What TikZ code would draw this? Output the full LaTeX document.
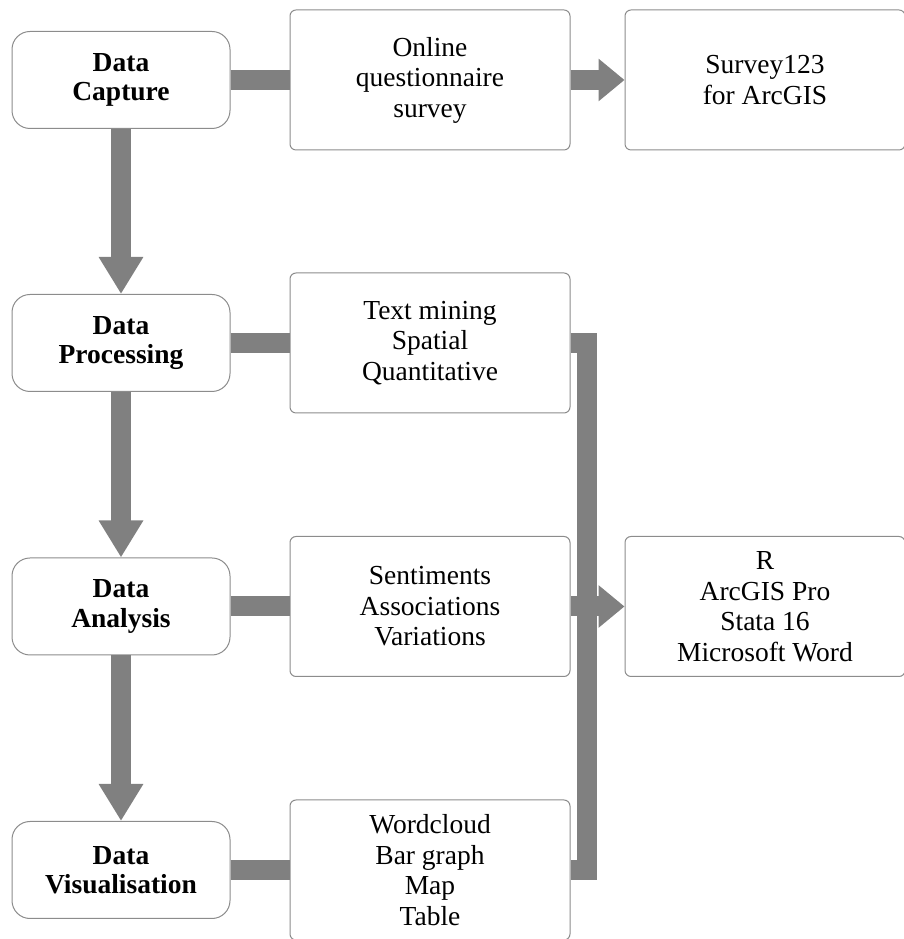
\documentclass[tikz,border=0pt]{standalone}
\usepackage{fontspec}
\setmainfont{Liberation Serif}
\usepackage{xcolor}
\usepackage{tikz}
\usetikzlibrary{arrows.meta}
\definecolor{gris}{RGB}{128,128,128}
\definecolor{bord}{RGB}{140,140,140}

\begin{document}
\begin{tikzpicture}[x=1pt,y=1pt,
	etape/.style={draw=bord,line width=1pt,fill=white,rounded corners=18pt,
		minimum width=218pt,minimum height=97pt,align=center,
		font=\fontsize{27.5}{29.5}\selectfont\bfseries},
	detail/.style={draw=bord,line width=1pt,fill=white,rounded corners=6pt,
		minimum width=280pt,minimum height=140pt,align=center,
		font=\fontsize{27.5}{30.5}\selectfont},
	lien/.style={draw=gris,line width=20pt},
	versbas/.style={lien,-{Triangle[length=37pt,width=42pt]}},
	versdroite/.style={lien,-{Triangle[length=26pt,width=41pt]}}]
	\useasboundingbox (0,0) rectangle (904,939);
	\foreach \nom/\info/\ordonnee/\etape/\detail in
	{dc/oq/859/{Data\\Capture}/{Online\\questionnaire\\survey},
	dp/tm/596/{Data\\Processing}/{Text mining\\Spatial\\Quantitative},
	da/sa/332.5/{Data\\Analysis}/{Sentiments\\Associations\\Variations},
	dv/wc/69/{Data\\Visualisation}/{Wordcloud\\Bar graph\\Map\\Table}}
		{\node[etape] (\nom) at (121,\ordonnee) {\etape};
		\node[detail] (\info) at (430,\ordonnee) {\detail};
		\draw[lien] (\nom) -- (\info);}
	\node[detail] (sv) at (765,859) {Survey123\\for ArcGIS};
	\node[detail] (tl) at (765,332.5) {R\\ArcGIS Pro\\Stata 16\\Microsoft Word};
	\foreach \haut/\bas in {dc/dp,dp/da,da/dv}
		{\draw[versbas] (\haut.south) -- (\bas.north);}
	\draw[versdroite] (oq.east) -- (sv.west);
	\draw[lien] (tm.east) -- ++(16,0) |- (wc.east);
	\draw[versdroite] (sa.east) -- (tl.west);
\end{tikzpicture}
\end{document}
